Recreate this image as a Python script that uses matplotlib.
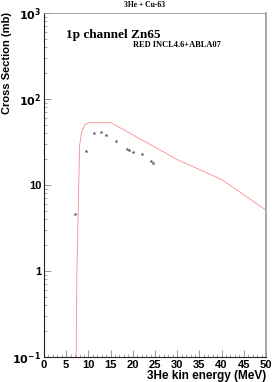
import matplotlib
matplotlib.use('Agg')
import matplotlib.pyplot as plt
from matplotlib.ticker import FixedLocator, NullFormatter

# measured points (mb)
data_energy = [7.05, 9.53, 11.26, 12.84, 13.96, 16.29, 18.7, 19.2, 19.97, 22.1, 24.1, 24.6]
data_xs = [4.56, 24.7, 39.9, 41.0, 37.8, 32.5, 26.2, 25.3, 24.0, 22.8, 18.9, 18.2]

# INCL4.6+ABLA07 calculation
calc_energy = [7.2, 7.4, 7.58, 7.81, 8.03, 8.48, 9.23, 10.06, 15.1, 30.2, 40.0, 50.0]
calc_xs = [0.05, 1.0, 2.5, 9.5, 29.2, 41.7, 50.0, 53.0, 53.0, 19.5, 11.6, 5.1]

xticks = [0, 5, 10, 15, 20, 25, 30, 35, 40, 45, 50]
yticks = [0.1, 1, 10, 100, 1000]
ylabels = [r'$\mathbf{10^{-1}}$', '1', '10', r'$\mathbf{10^{2}}$', r'$\mathbf{10^{3}}$']

fig = plt.figure(figsize=(2.72, 3.82), dpi=100)
ax = fig.add_axes([44/272, 1 - 357/382, 222/272, 344/382])

ax.plot(calc_energy, calc_xs, color='#ff8a8a', lw=0.6)
ax.plot(data_energy, data_xs, linestyle='none', marker='*', ms=3, color='#555555', mew=0)

ax.set_yscale('log')
ax.set_xlim(0, 50)
ax.set_ylim(0.1, 1000)

ax.xaxis.set_major_locator(FixedLocator(xticks))
ax.xaxis.set_minor_locator(FixedLocator(range(0, 51)))
ax.set_xticklabels([str(t) for t in xticks], fontsize=8, fontweight='bold', family='Liberation Sans')
ax.set_yticks(yticks)
ax.set_yticklabels(ylabels, fontsize=8, fontweight='bold', family='Liberation Sans')
ax.yaxis.set_minor_formatter(NullFormatter())
ax.tick_params(which='both', direction='in', top=False, right=False, colors='#888888',
               labelcolor='black', pad=2)
ax.tick_params(which='major', length=5, width=0.6)
ax.tick_params(which='minor', length=2.5, width=0.5)

for s in ['left', 'bottom']:
    ax.spines[s].set_color('#222222')
    ax.spines[s].set_linewidth(0.8)
ax.spines['top'].set_color('#999999')
ax.spines['top'].set_linewidth(0.6)
ax.spines['right'].set_color('#999999')
ax.spines['right'].set_linewidth(1.2)

fig.text(145/272, 1 - 5/382, '3He + Cu-63', ha='center', va='center', fontsize=5.5,
         fontweight='bold', family='Liberation Serif')
fig.text(66/272, 1 - 35/382, '1p channel Zn65', ha='left', va='center', fontsize=9.5,
         fontweight='bold', family='Liberation Serif')
fig.text(133/272, 1 - 45/382, 'RED INCL4.6+ABLA07', ha='left', va='center', fontsize=6,
         fontweight='bold', family='Liberation Serif')
fig.text(7/272, 1 - 12/382, 'Cross Section (mb)', ha='center', va='top', rotation=90,
         fontsize=8, fontweight='bold', family='Liberation Sans')
fig.text(266/272, 1 - 376/382, '3He kin energy (MeV)', ha='right', va='center',
         fontsize=8.5, fontweight='bold', family='Liberation Sans')

fig.savefig('out.png', dpi=100)
